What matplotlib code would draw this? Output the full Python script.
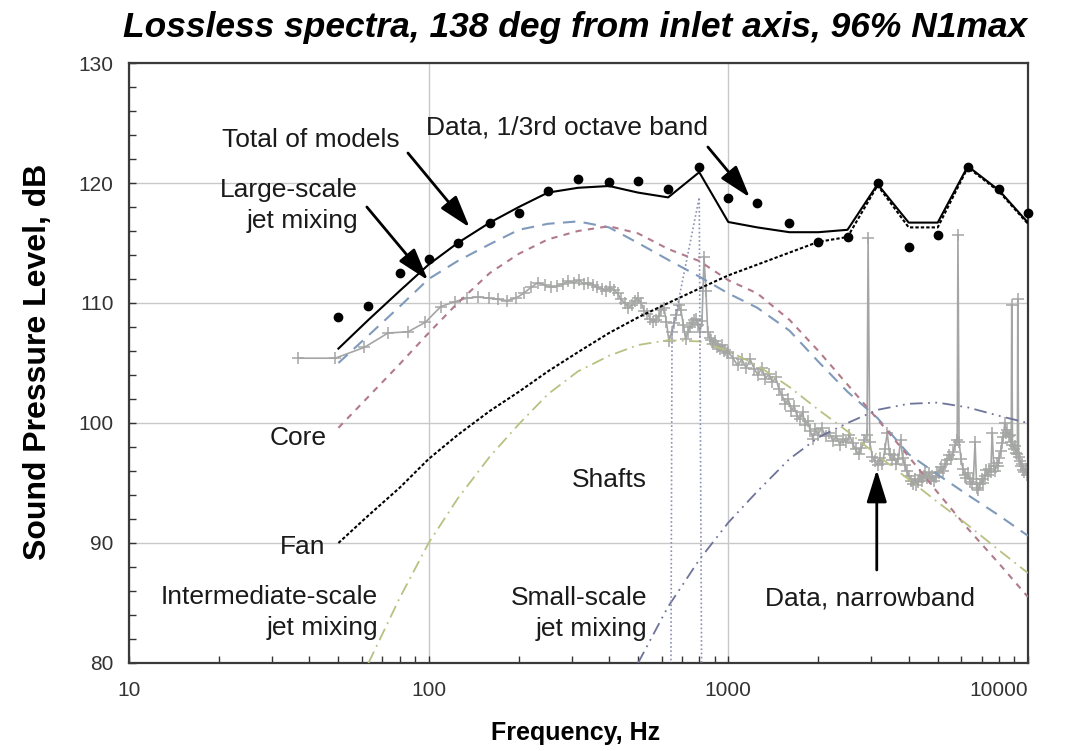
import numpy as np
import matplotlib
matplotlib.use("Agg")
import matplotlib.pyplot as plt

plt.rcParams['font.family'] = ['Liberation Sans', 'DejaVu Sans']

# 1/3 octave band centre frequencies, Hz
bands = [50, 63, 80, 100, 125, 160, 200, 250, 315, 400, 500, 630, 800,
         1000, 1250, 1600, 2000, 2500, 3150, 4000, 5000, 6300, 8000, 10000]

# measured 1/3 octave levels (dots)
data_third = [108.8, 109.75, 112.5, 113.7, 115.0, 116.7, 117.5, 119.3, 120.3, 120.1, 120.2, 119.5,
              121.3, 118.75, 118.3, 116.7, 115.1, 115.5, 120.0, 114.7, 115.7, 121.3, 119.5, 117.5]

# model components
total = [106.2, 108.6, 111.0, 113.2, 115.0, 116.7, 118.0, 119.2, 119.6, 119.75, 119.2, 118.8,
         120.9, 116.75, 116.3, 115.9, 115.9, 116.1, 119.9, 116.7, 116.7, 121.4, 119.4, 116.7]
large_scale = [105.0, 107.3, 109.7, 112.0, 113.5, 114.9, 116.1, 116.6, 116.8, 116.3, 115.0, 113.6,
               112.2, 110.8, 109.6, 107.7, 105.1, 102.6, 100.4, 97.4, 95.7, 94.0, 92.3, 90.6]
core = [99.6, 102.2, 104.9, 107.5, 110.0, 112.5, 114.1, 115.3, 116.0, 116.4, 115.8, 114.5,
        113.5, 111.9, 110.8, 108.6, 106.0, 103.2, 100.3, 97.2, 94.2, 91.2, 88.3, 85.5]
fan = [90.0, 92.3, 94.6, 97.0, 99.0, 101.0, 102.6, 104.3, 105.9, 107.5, 108.8, 110.0,
       111.2, 112.3, 113.2, 114.2, 115.1, 115.5, 119.8, 116.3, 116.3, 121.3, 119.3, 116.6]

inter_freq = [63, 80, 100, 125, 160, 200, 250, 315, 400, 500, 630, 800,
              1000, 1250, 1600, 2000, 2500, 3150, 4000, 5000, 6300, 8000, 10000]
inter_scale = [80.0, 85.4, 90.0, 93.7, 97.2, 99.9, 102.4, 104.3, 105.6, 106.5, 106.9, 106.8,
               106.0, 104.8, 103.0, 101.1, 99.3, 97.3, 95.3, 93.4, 91.5, 89.4, 87.5]

small_freq = [500, 630, 800, 1000, 1250, 1600, 2000, 2500, 3150, 4000, 5000, 6300, 8000, 10000]
small_scale = [80.0, 84.7, 88.6, 91.7, 94.3, 97.0, 98.8, 100.0, 101.1, 101.6, 101.7, 101.3, 100.6, 100.0]

shaft_freq = [640, 649, 800, 822]
shafts = [60.0, 107.5, 118.8, 60.0]

# narrowband data in pieces
nb_freq_low = [36.6, 48.8, 61.0, 73.2, 85.4, 97.6, 109.8, 122.0, 134.2, 146.4, 158.6, 170.8, 183.0,
               195.2, 207.4, 219.6, 231.8, 244.0, 256.2, 268.4, 280.6, 292.8, 305.0, 317.2, 329.4,
               341.6, 353.8, 366.0, 378.2, 390.4, 402.6, 414.8, 427.0, 439.2, 451.4, 463.6, 475.8,
               488.0, 500.2]
nb_spl_low = [105.4, 105.4, 106.3, 107.5, 107.6, 108.4, 109.7, 110.1, 110.4, 110.5, 110.4, 110.3, 110.2,
              110.4, 110.8, 111.3, 111.7, 111.5, 111.3, 111.4, 111.6, 111.8, 111.7, 111.9, 111.6,
              111.7, 111.5, 111.3, 111.2, 111.0, 111.3, 111.1, 110.8, 110.3, 110.0, 109.6, 109.8,
              110.2, 110.4]

nb_freq_mid = [512, 525, 537, 549, 561, 573, 586, 598, 610, 622, 634, 647, 659, 671, 683, 695, 708,
               720, 732, 744, 756, 769, 781, 793, 805, 817, 830, 842, 854, 866, 879, 891, 903, 915,
               927, 940, 952, 964, 976, 988, 1000]
nb_spl_mid = [110.0, 109.3, 109.1, 108.7, 108.4, 108.6, 108.9, 109.4, 109.6, 108.4, 106.8, 107.6, 108.3,
              109.0, 109.8, 109.4, 108.2, 107.0, 107.6, 108.0, 108.3, 108.6, 108.7, 108.2, 107.6, 108.5,
              113.8, 111.0, 107.6, 107.1, 106.9, 106.6, 106.8, 106.3, 106.4, 106.2, 106.5, 106.0,
              106.1, 105.8, 105.9]

nb_freq_k1 = [1037, 1074, 1110, 1147, 1184, 1220, 1257, 1293, 1330, 1367, 1403, 1440, 1476, 1513,
              1550, 1586, 1623, 1659, 1696, 1733, 1769, 1806, 1842, 1879, 1916, 1952, 1989]
nb_spl_k1 = [105.4, 104.8, 105.3, 104.6, 105.3, 104.5, 104.0, 104.6, 103.7, 104.1, 103.4, 103.8, 102.8,
             102.3, 101.6, 102.0, 101.0, 101.4, 100.6, 100.3, 100.9, 99.8, 100.2, 99.3, 98.7, 99.5, 99.0]

nb_freq_k2 = [2050, 2111, 2172, 2233, 2294, 2355, 2416, 2477, 2538, 2599, 2660, 2721, 2782, 2843,
              2904, 2928, 2965, 3026, 3087, 3148, 3209, 3270, 3331, 3392, 3453, 3514, 3575, 3636,
              3697, 3758, 3819, 3880, 3941, 4002, 4063, 4124, 4185, 4246, 4307, 4368, 4429, 4490,
              4551, 4612, 4673, 4734, 4795, 4856, 4917, 4978]
nb_spl_k2 = [99.6, 98.9, 99.2, 98.5, 98.9, 98.2, 98.7, 98.4, 99.0, 98.3, 97.8, 97.4, 97.9, 98.6,
             99.0, 115.4, 98.4, 97.2, 96.8, 96.5, 97.1, 96.6, 97.8, 99.2, 97.4, 96.9, 97.3, 96.6,
             97.0, 98.6, 97.1, 96.5, 96.0, 95.6, 95.2, 94.9, 95.3, 94.8, 95.1, 95.7, 95.2, 95.6,
             95.9, 95.4, 95.8, 95.3, 95.6, 95.2, 95.5, 95.9]

nb_freq_k3 = [5039, 5124, 5210, 5295, 5380, 5466, 5551, 5636, 5722, 5807, 5840, 5892, 5978, 6063,
              6149, 6234, 6319, 6405, 6490, 6575, 6661, 6746, 6831, 6917, 7002, 7088, 7173, 7258,
              7344, 7429, 7514, 7600, 7685, 7771, 7856, 7941, 8027, 8112, 8198, 8283, 8368, 8454,
              8539, 8624, 8710, 8795, 8830, 8880, 8966, 9051, 9136, 9222, 9250, 9307, 9393, 9478,
              9563, 9649, 9734, 9819, 9905, 9990]
nb_spl_k3 = [95.8, 96.3, 96.0, 96.6, 96.9, 97.3, 97.0, 97.6, 98.2, 98.6, 115.7, 98.4, 97.0, 96.2,
             95.7, 95.4, 95.8, 95.1, 94.9, 95.3, 98.4, 94.6, 94.4, 94.9, 95.3, 95.0, 95.6, 96.1,
             95.7, 96.2, 95.9, 99.2, 96.4, 96.0, 96.7, 96.4, 97.1, 97.7, 98.3, 98.8, 100.0, 99.2,
             99.4, 98.9, 99.0, 98.4, 109.8, 98.2, 97.8, 98.1, 97.5, 97.4, 110.3, 97.2, 96.8, 96.4,
             96.6, 96.1, 95.9, 96.2, 95.7, 95.8]

nb_freq = nb_freq_low + nb_freq_mid + nb_freq_k1 + nb_freq_k2 + nb_freq_k3
nb_spl = nb_spl_low + nb_spl_mid + nb_spl_k1 + nb_spl_k2 + nb_spl_k3

fig = plt.figure(figsize=(10.73, 7.51), dpi=100)
ax = fig.add_axes([0.1202, 0.1172, 0.8378, 0.7989])

# narrowband first so the models sit on top of it
ax.plot(nb_freq, nb_spl, color='#a4a6a4', lw=1.2, marker='+', ms=8, mew=1.1, zorder=2)

ax.plot(bands, large_scale, color='#7f9aba', lw=1.5, dashes=(6, 4), zorder=3)
ax.plot(bands, core, color='#b27a8b', lw=1.5, dashes=(3, 3), zorder=3)
ax.plot(bands, fan, color='black', lw=1.5, dashes=(1.6, 1.0), zorder=3)
ax.plot(inter_freq, inter_scale, color='#b9c081', lw=1.3, dashes=(7, 3, 1, 3), zorder=3)
ax.plot(small_freq, small_scale, color='#6e7399', lw=1.3, dashes=(7, 3, 1, 3, 1, 3), zorder=3)
ax.plot(shaft_freq, shafts, color='#8990b6', lw=1.2, dashes=(1, 1.5), zorder=3)

ax.plot(bands, total, color='black', lw=1.5, zorder=4)
ax.plot(bands, data_third, 'o', color='black', ms=6, zorder=5, clip_on=False)

ax.set_xscale('log')
ax.set_xlim(10, 10000)
ax.set_ylim(80, 130)
ax.set_xticks([10, 100, 1000, 10000])
ax.set_xticklabels(['10', '100', '1000', '10000'])
ax.get_xticklabels()[-1].set_horizontalalignment('right')
ax.set_yticks(range(80, 131, 10))
ax.set_yticks(np.arange(80, 131, 2), minor=True)
ax.tick_params(which='both', direction='in', length=5, width=1, color='#333333',
               top=False, right=False)
ax.tick_params(which='major', labelsize=15, labelcolor='#333333')
ax.tick_params(axis='x', which='major', pad=13)
ax.tick_params(axis='y', which='major', pad=11)
ax.grid(True, which='major', color='#c8c8c8', lw=1)
ax.set_axisbelow(True)
for s in ax.spines.values():
    s.set_color('#3a3a3a')
    s.set_linewidth(1.6)

# labels and annotations
txt = dict(fontsize=19, color='#1a1a1a')
arrow = dict(arrowstyle='-|>,head_length=0.9,head_width=0.28', color='black', lw=2,
             shrinkA=0, shrinkB=0, mutation_scale=22)

ax.text(40.5, 123.6, 'Total of models', ha='center', va='center', **txt)
ax.annotate('', xy=(137, 116.3), xytext=(85.3, 122.5), arrowprops=arrow)

ax.text(289, 124.6, 'Data, 1/3rd octave band', ha='center', va='center', **txt)
ax.annotate('', xy=(1180, 118.8), xytext=(855, 123.0), arrowprops=arrow)

ax.text(58.1, 118.1, 'Large-scale\njet mixing', ha='right', va='center', multialignment='right',
        linespacing=1.35, **txt)
ax.annotate('', xy=(99.5, 111.9), xytext=(62.2, 118.0), arrowprops=arrow)

ax.text(45.8, 98.75, 'Core', ha='right', va='center', **txt)
ax.text(45.4, 89.7, 'Fan', ha='right', va='center', **txt)
ax.text(67.8, 84.2, 'Intermediate-scale\njet mixing', ha='right', va='center',
        multialignment='right', linespacing=1.35, **txt)
ax.text(535, 95.25, 'Shafts', ha='right', va='center', **txt)
ax.text(538, 84.1, 'Small-scale\njet mixing', ha='right', va='center', multialignment='right',
        linespacing=1.35, **txt)

ax.text(2965, 85.4, 'Data, narrowband', ha='center', va='center', **txt)
ax.annotate('', xy=(3130, 96.1), xytext=(3130, 87.75), arrowprops=arrow)

fig.text(575 / 1073, 1 - 28 / 751, 'Lossless spectra, 138 deg from inlet axis, 96% N1max',
         ha='center', va='center', fontsize=25.5, fontweight='bold', fontstyle='italic')
fig.text(576 / 1073, 1 - 733 / 751, 'Frequency, Hz', ha='center', va='center',
         fontsize=18, fontweight='bold')
fig.text(38 / 1073, 1 - 362 / 751, 'Sound Pressure Level, dB', ha='center', va='center',
         rotation=90, fontsize=23, fontweight='bold')

fig.savefig('out.png', dpi=100)
